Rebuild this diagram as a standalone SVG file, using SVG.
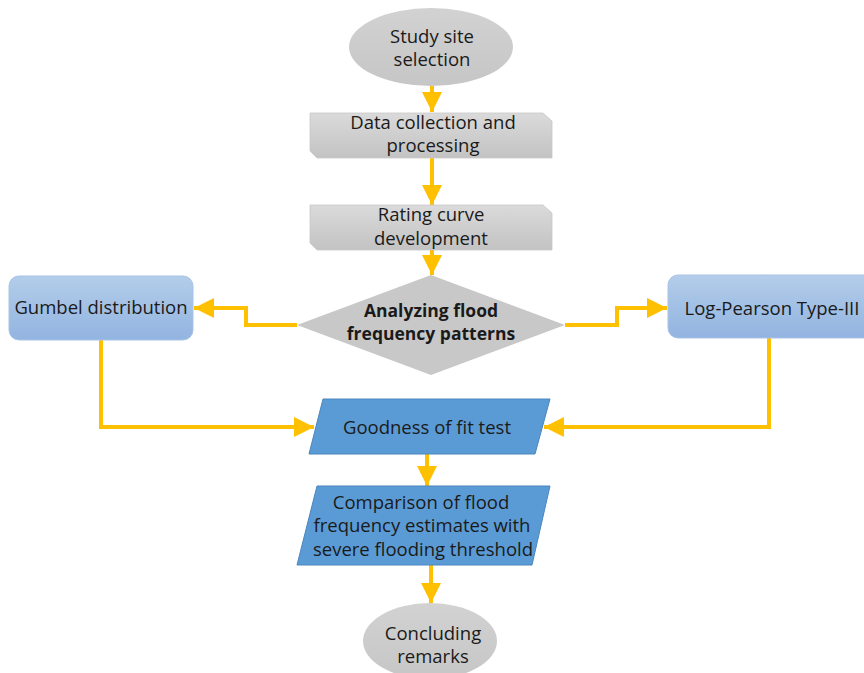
<svg xmlns="http://www.w3.org/2000/svg" width="864" height="673" viewBox="0 0 864 673">
<defs>
<linearGradient id="gGray" x1="0" y1="0" x2="0" y2="1">
<stop offset="0" stop-color="#dadada"/><stop offset="1" stop-color="#c3c3c3"/>
</linearGradient>
<linearGradient id="gEll" x1="0" y1="0" x2="0" y2="1">
<stop offset="0" stop-color="#d2d2d2"/><stop offset="1" stop-color="#c6c6c6"/>
</linearGradient>
<linearGradient id="gBlue" x1="0" y1="0" x2="0" y2="1">
<stop offset="0" stop-color="#b3cdea"/><stop offset="1" stop-color="#92b4e0"/>
</linearGradient>
<marker id="ah" viewBox="0 0 10 10" refX="10" refY="5" markerWidth="5" markerHeight="5.6" markerUnits="strokeWidth" orient="auto">
<path d="M0,0 L10,5 L0,10 Z" fill="#ffc000"/>
</marker>
</defs>
<style>
text{font-family:"Open Sans","Liberation Sans",Arial,sans-serif;font-size:18.5px;fill:#1a1a1a;text-anchor:middle}
.b{font-weight:bold;font-size:17.5px}
.ell{fill:url(#gEll)}
.snip{fill:url(#gGray);stroke:#c8c8c8;stroke-width:0.8}
.rr{fill:url(#gBlue);stroke:#a9c3e6;stroke-width:1}
.par{fill:#5b9bd5;stroke:#4a86be;stroke-width:1}
.con{fill:none;stroke:#ffc000;stroke-width:4;marker-end:url(#ah)}
</style>
<g id="connectors">
<path class="con" d="M432,86 V112"/>
<path class="con" d="M432,158 V205"/>
<path class="con" d="M432,250 V275"/>
<path class="con" d="M297,325 H246 V308 H194"/>
<path class="con" d="M565,325 H617 V308 H667"/>
<path class="con" d="M101,340 V427 H314"/>
<path class="con" d="M769,338 V427 H544"/>
<path class="con" d="M427,454 V486"/>
<path class="con" d="M431,565 V603"/>
</g>
<g id="n_study">
<ellipse class="ell" cx="431" cy="47" rx="82" ry="39"/>
<text x="432" y="43">Study site</text>
<text x="432" y="66">selection</text>
</g>
<g id="n_data">
<path class="snip" d="M310,113 H543 L552,121 V158 H317 L310,151 Z"/>
<text x="433" y="129">Data collection and</text>
<text x="433" y="152">processing</text>
</g>
<g id="n_rating">
<path class="snip" d="M310,205 H543 L552,213 V250 H317 L310,243 Z"/>
<text x="431" y="221">Rating curve</text>
<text x="431" y="245">development</text>
</g>
<g id="n_analyze">
<polygon points="431,275 565,325 431,375 297,325" fill="#c8c8c8"/>
<text class="b" x="431" y="317">Analyzing flood</text>
<text class="b" x="431" y="340">frequency patterns</text>
</g>
<g id="n_gumbel">
<rect class="rr" x="9" y="276" width="184" height="64" rx="10"/>
<text x="101" y="314">Gumbel distribution</text>
</g>
<g id="n_lp3">
<rect class="rr" x="668" y="275" width="220" height="63" rx="10"/>
<text x="772" y="315">Log-Pearson Type-III</text>
</g>
<g id="n_gof">
<polygon class="par" points="323,399 550,399 535,454 309,454"/>
<text x="427" y="434">Goodness of fit test</text>
</g>
<g id="n_compare">
<polygon class="par" points="317,486 550,486 532,565 297,565"/>
<text x="421" y="509">Comparison of flood</text>
<text x="422" y="532">frequency estimates with</text>
<text x="423" y="556">severe flooding threshold</text>
</g>
<g id="n_conclude">
<ellipse class="ell" cx="430" cy="641" rx="67" ry="38"/>
<text x="433" y="640">Concluding</text>
<text x="433" y="663">remarks</text>
</g>
</svg>
